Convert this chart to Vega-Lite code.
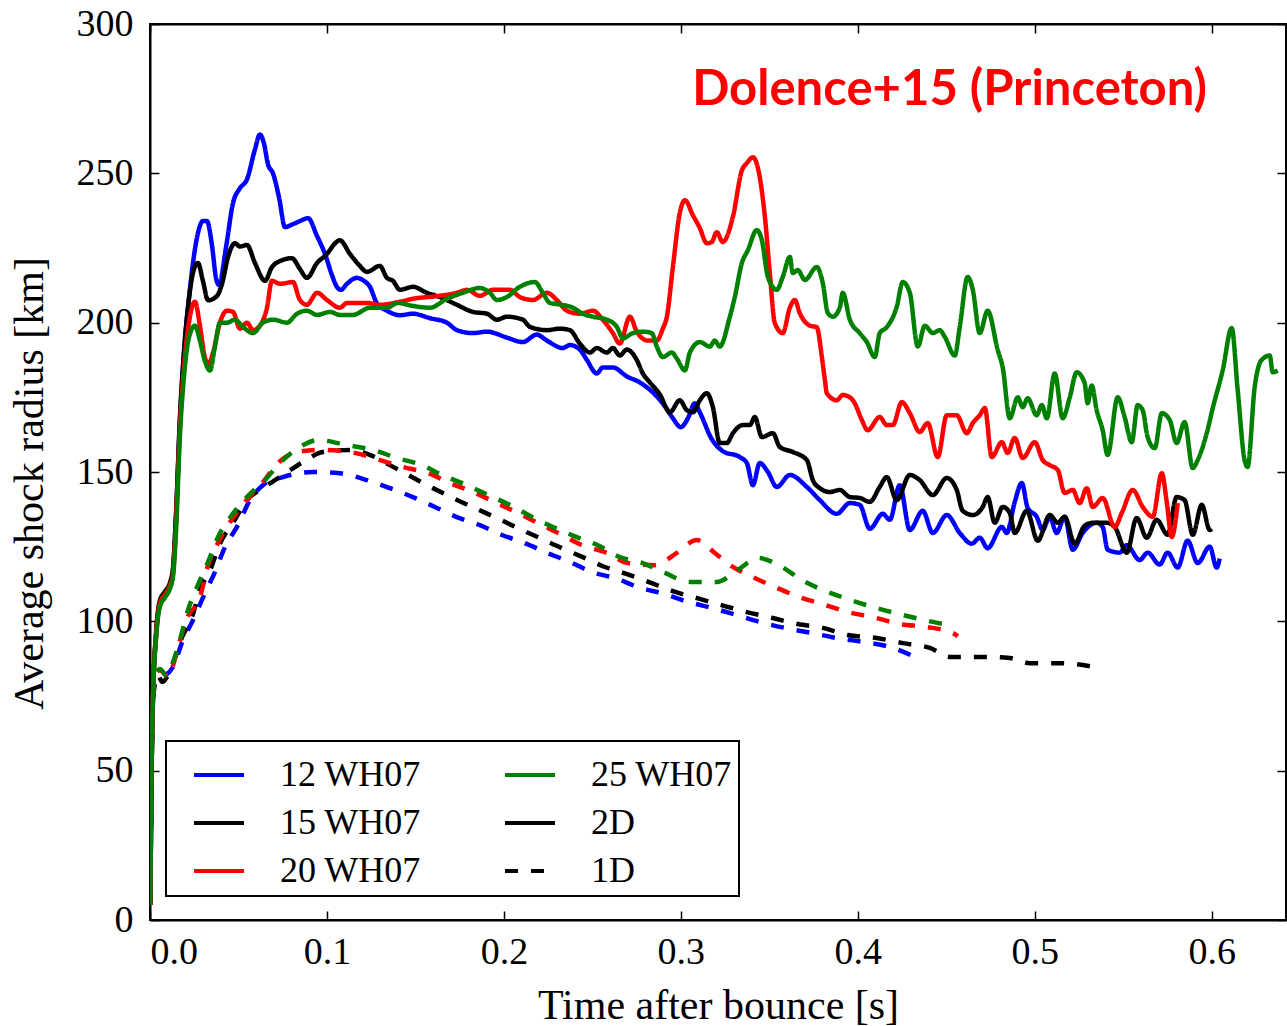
{
"$schema": "https://vega.github.io/schema/vega-lite/v6.json",
"width": 1136, "height": 896,
"autosize": {"type": "none"},
"padding": {"left": 150, "top": 24, "right": 1, "bottom": 106},
"background": "white",
"title": {"text": "Dolence+15 (Princeton)", "anchor": "end", "frame": "group", "orient": "top", "offset": 0, "baseline": "alphabetic", "dy": 149, "dx": -79, "color": "#ff0000", "font": "Lato", "fontSize": 49, "fontWeight": "bold"},
"config": {
 "view": {"stroke": "black", "strokeWidth": 2},
 "axis": {"grid": false, "domainColor": "black", "domainWidth": 2, "tickColor": "black", "tickWidth": 1.5, "tickSize": -9, "labelFont": "Liberation Serif", "labelFontSize": 38, "labelColor": "black", "titleFont": "Liberation Serif", "titleFontSize": 42, "titleFontWeight": "normal", "titleColor": "black"},
 "legend": {"labelFont": "Liberation Serif", "labelFontSize": 36, "labelColor": "black"}
},
"layer": [
 {
  "data": {"values": [
{"model":"12 WH07","dim":"2D","t":0.0002,"r":5},{"model":"12 WH07","dim":"2D","t":0.0008,"r":45},{"model":"12 WH07","dim":"2D","t":0.0017,"r":75},{"model":"12 WH07","dim":"2D","t":0.0034,"r":95},{"model":"12 WH07","dim":"2D","t":0.0056,"r":106},{"model":"12 WH07","dim":"2D","t":0.0085,"r":109},{"model":"12 WH07","dim":"2D","t":0.0113,"r":112},{"model":"12 WH07","dim":"2D","t":0.013,"r":117},{"model":"12 WH07","dim":"2D","t":0.0147,"r":135},{"model":"12 WH07","dim":"2D","t":0.0169,"r":167},{"model":"12 WH07","dim":"2D","t":0.0192,"r":190},{"model":"12 WH07","dim":"2D","t":0.022,"r":208},{"model":"12 WH07","dim":"2D","t":0.0243,"r":220},{"model":"12 WH07","dim":"2D","t":0.0271,"r":230},{"model":"12 WH07","dim":"2D","t":0.0299,"r":234},{"model":"12 WH07","dim":"2D","t":0.0322,"r":234},{"model":"12 WH07","dim":"2D","t":0.035,"r":226},{"model":"12 WH07","dim":"2D","t":0.0373,"r":215},{"model":"12 WH07","dim":"2D","t":0.039,"r":212.6},{"model":"12 WH07","dim":"2D","t":0.0429,"r":225},{"model":"12 WH07","dim":"2D","t":0.0469,"r":240},{"model":"12 WH07","dim":"2D","t":0.0508,"r":245},{"model":"12 WH07","dim":"2D","t":0.0548,"r":248},{"model":"12 WH07","dim":"2D","t":0.0593,"r":258},{"model":"12 WH07","dim":"2D","t":0.0621,"r":263},{"model":"12 WH07","dim":"2D","t":0.0644,"r":260},{"model":"12 WH07","dim":"2D","t":0.0667,"r":253},{"model":"12 WH07","dim":"2D","t":0.0695,"r":250},{"model":"12 WH07","dim":"2D","t":0.0729,"r":242},{"model":"12 WH07","dim":"2D","t":0.0763,"r":232},{"model":"12 WH07","dim":"2D","t":0.0808,"r":233},{"model":"12 WH07","dim":"2D","t":0.0847,"r":234},{"model":"12 WH07","dim":"2D","t":0.0893,"r":235},{"model":"12 WH07","dim":"2D","t":0.0944,"r":229},{"model":"12 WH07","dim":"2D","t":0.0989,"r":223},{"model":"12 WH07","dim":"2D","t":0.1028,"r":216},{"model":"12 WH07","dim":"2D","t":0.1056,"r":212},{"model":"12 WH07","dim":"2D","t":0.1079,"r":211},{"model":"12 WH07","dim":"2D","t":0.1113,"r":213},{"model":"12 WH07","dim":"2D","t":0.1169,"r":215},{"model":"12 WH07","dim":"2D","t":0.1209,"r":214},{"model":"12 WH07","dim":"2D","t":0.1243,"r":212},{"model":"12 WH07","dim":"2D","t":0.1282,"r":206.5},{"model":"12 WH07","dim":"2D","t":0.1339,"r":204},{"model":"12 WH07","dim":"2D","t":0.1412,"r":202.5},{"model":"12 WH07","dim":"2D","t":0.1486,"r":203},{"model":"12 WH07","dim":"2D","t":0.1582,"r":201.5},{"model":"12 WH07","dim":"2D","t":0.1678,"r":200},{"model":"12 WH07","dim":"2D","t":0.1734,"r":197.5},{"model":"12 WH07","dim":"2D","t":0.1825,"r":196.5},{"model":"12 WH07","dim":"2D","t":0.1904,"r":197},{"model":"12 WH07","dim":"2D","t":0.2017,"r":195},{"model":"12 WH07","dim":"2D","t":0.2107,"r":193.5},{"model":"12 WH07","dim":"2D","t":0.2186,"r":196},{"model":"12 WH07","dim":"2D","t":0.2243,"r":194},{"model":"12 WH07","dim":"2D","t":0.2333,"r":191.5},{"model":"12 WH07","dim":"2D","t":0.2373,"r":192.5},{"model":"12 WH07","dim":"2D","t":0.2429,"r":191},{"model":"12 WH07","dim":"2D","t":0.2469,"r":187.5},{"model":"12 WH07","dim":"2D","t":0.2525,"r":183},{"model":"12 WH07","dim":"2D","t":0.2559,"r":185},{"model":"12 WH07","dim":"2D","t":0.2616,"r":185},{"model":"12 WH07","dim":"2D","t":0.2695,"r":182},{"model":"12 WH07","dim":"2D","t":0.2768,"r":180},{"model":"12 WH07","dim":"2D","t":0.2853,"r":176},{"model":"12 WH07","dim":"2D","t":0.291,"r":172},{"model":"12 WH07","dim":"2D","t":0.2955,"r":168},{"model":"12 WH07","dim":"2D","t":0.3,"r":165},{"model":"12 WH07","dim":"2D","t":0.304,"r":168},{"model":"12 WH07","dim":"2D","t":0.3079,"r":173},{"model":"12 WH07","dim":"2D","t":0.3107,"r":170},{"model":"12 WH07","dim":"2D","t":0.3175,"r":161},{"model":"12 WH07","dim":"2D","t":0.3237,"r":157},{"model":"12 WH07","dim":"2D","t":0.3333,"r":155},{"model":"12 WH07","dim":"2D","t":0.3373,"r":153},{"model":"12 WH07","dim":"2D","t":0.3407,"r":145.6},{"model":"12 WH07","dim":"2D","t":0.3446,"r":153},{"model":"12 WH07","dim":"2D","t":0.3492,"r":150},{"model":"12 WH07","dim":"2D","t":0.3542,"r":145},{"model":"12 WH07","dim":"2D","t":0.3616,"r":149},{"model":"12 WH07","dim":"2D","t":0.3712,"r":145},{"model":"12 WH07","dim":"2D","t":0.3785,"r":140.6},{"model":"12 WH07","dim":"2D","t":0.3881,"r":136},{"model":"12 WH07","dim":"2D","t":0.3955,"r":139.6},{"model":"12 WH07","dim":"2D","t":0.4011,"r":139},{"model":"12 WH07","dim":"2D","t":0.4068,"r":131},{"model":"12 WH07","dim":"2D","t":0.4141,"r":136},{"model":"12 WH07","dim":"2D","t":0.4181,"r":134},{"model":"12 WH07","dim":"2D","t":0.4237,"r":145.6},{"model":"12 WH07","dim":"2D","t":0.4294,"r":130.6},{"model":"12 WH07","dim":"2D","t":0.4367,"r":137},{"model":"12 WH07","dim":"2D","t":0.4424,"r":129.6},{"model":"12 WH07","dim":"2D","t":0.4503,"r":135.6},{"model":"12 WH07","dim":"2D","t":0.4576,"r":129.6},{"model":"12 WH07","dim":"2D","t":0.4644,"r":126},{"model":"12 WH07","dim":"2D","t":0.4689,"r":128},{"model":"12 WH07","dim":"2D","t":0.4734,"r":124.5},{"model":"12 WH07","dim":"2D","t":0.4814,"r":131.6},{"model":"12 WH07","dim":"2D","t":0.4842,"r":129.6},{"model":"12 WH07","dim":"2D","t":0.4887,"r":140},{"model":"12 WH07","dim":"2D","t":0.4927,"r":146.3},{"model":"12 WH07","dim":"2D","t":0.496,"r":138},{"model":"12 WH07","dim":"2D","t":0.5011,"r":135},{"model":"12 WH07","dim":"2D","t":0.5045,"r":130.6},{"model":"12 WH07","dim":"2D","t":0.5085,"r":135},{"model":"12 WH07","dim":"2D","t":0.5124,"r":129.6},{"model":"12 WH07","dim":"2D","t":0.5169,"r":135},{"model":"12 WH07","dim":"2D","t":0.5215,"r":124},{"model":"12 WH07","dim":"2D","t":0.5271,"r":129.6},{"model":"12 WH07","dim":"2D","t":0.535,"r":133},{"model":"12 WH07","dim":"2D","t":0.5384,"r":131.6},{"model":"12 WH07","dim":"2D","t":0.5412,"r":124},{"model":"12 WH07","dim":"2D","t":0.548,"r":123},{"model":"12 WH07","dim":"2D","t":0.552,"r":125.5},{"model":"12 WH07","dim":"2D","t":0.5593,"r":120.5},{"model":"12 WH07","dim":"2D","t":0.5638,"r":123},{"model":"12 WH07","dim":"2D","t":0.5706,"r":119},{"model":"12 WH07","dim":"2D","t":0.5751,"r":123},{"model":"12 WH07","dim":"2D","t":0.5808,"r":118},{"model":"12 WH07","dim":"2D","t":0.5864,"r":127},{"model":"12 WH07","dim":"2D","t":0.5921,"r":119.5},{"model":"12 WH07","dim":"2D","t":0.5989,"r":125},{"model":"12 WH07","dim":"2D","t":0.6028,"r":118},{"model":"12 WH07","dim":"2D","t":0.6045,"r":121},
{"model":"15 WH07","dim":"2D","t":0.0002,"r":5},{"model":"15 WH07","dim":"2D","t":0.0008,"r":45},{"model":"15 WH07","dim":"2D","t":0.0017,"r":75},{"model":"15 WH07","dim":"2D","t":0.0034,"r":96},{"model":"15 WH07","dim":"2D","t":0.0056,"r":107},{"model":"15 WH07","dim":"2D","t":0.0085,"r":110},{"model":"15 WH07","dim":"2D","t":0.0113,"r":113},{"model":"15 WH07","dim":"2D","t":0.013,"r":118},{"model":"15 WH07","dim":"2D","t":0.0147,"r":136},{"model":"15 WH07","dim":"2D","t":0.0169,"r":168},{"model":"15 WH07","dim":"2D","t":0.0192,"r":190},{"model":"15 WH07","dim":"2D","t":0.022,"r":208},{"model":"15 WH07","dim":"2D","t":0.0249,"r":218},{"model":"15 WH07","dim":"2D","t":0.0271,"r":220},{"model":"15 WH07","dim":"2D","t":0.0299,"r":214},{"model":"15 WH07","dim":"2D","t":0.0328,"r":207.5},{"model":"15 WH07","dim":"2D","t":0.0379,"r":209},{"model":"15 WH07","dim":"2D","t":0.0407,"r":213},{"model":"15 WH07","dim":"2D","t":0.0441,"r":222},{"model":"15 WH07","dim":"2D","t":0.048,"r":226.6},{"model":"15 WH07","dim":"2D","t":0.0508,"r":225.5},{"model":"15 WH07","dim":"2D","t":0.0548,"r":226},{"model":"15 WH07","dim":"2D","t":0.0593,"r":220},{"model":"15 WH07","dim":"2D","t":0.065,"r":214},{"model":"15 WH07","dim":"2D","t":0.0689,"r":218.6},{"model":"15 WH07","dim":"2D","t":0.0751,"r":221},{"model":"15 WH07","dim":"2D","t":0.0802,"r":221.6},{"model":"15 WH07","dim":"2D","t":0.0847,"r":218},{"model":"15 WH07","dim":"2D","t":0.0887,"r":215},{"model":"15 WH07","dim":"2D","t":0.0944,"r":220},{"model":"15 WH07","dim":"2D","t":0.1,"r":223},{"model":"15 WH07","dim":"2D","t":0.1045,"r":226.5},{"model":"15 WH07","dim":"2D","t":0.1073,"r":227.6},{"model":"15 WH07","dim":"2D","t":0.113,"r":223},{"model":"15 WH07","dim":"2D","t":0.1186,"r":219},{"model":"15 WH07","dim":"2D","t":0.1226,"r":217},{"model":"15 WH07","dim":"2D","t":0.1299,"r":219},{"model":"15 WH07","dim":"2D","t":0.1339,"r":215},{"model":"15 WH07","dim":"2D","t":0.1373,"r":214},{"model":"15 WH07","dim":"2D","t":0.1412,"r":211},{"model":"15 WH07","dim":"2D","t":0.1486,"r":212},{"model":"15 WH07","dim":"2D","t":0.1565,"r":210},{"model":"15 WH07","dim":"2D","t":0.1638,"r":208.6},{"model":"15 WH07","dim":"2D","t":0.1734,"r":206},{"model":"15 WH07","dim":"2D","t":0.1825,"r":203.6},{"model":"15 WH07","dim":"2D","t":0.1904,"r":203},{"model":"15 WH07","dim":"2D","t":0.196,"r":201},{"model":"15 WH07","dim":"2D","t":0.2017,"r":202},{"model":"15 WH07","dim":"2D","t":0.2107,"r":201},{"model":"15 WH07","dim":"2D","t":0.2147,"r":198.6},{"model":"15 WH07","dim":"2D","t":0.2243,"r":197.5},{"model":"15 WH07","dim":"2D","t":0.2316,"r":198},{"model":"15 WH07","dim":"2D","t":0.2373,"r":197.5},{"model":"15 WH07","dim":"2D","t":0.2429,"r":193},{"model":"15 WH07","dim":"2D","t":0.2486,"r":190},{"model":"15 WH07","dim":"2D","t":0.2525,"r":191.5},{"model":"15 WH07","dim":"2D","t":0.2582,"r":190},{"model":"15 WH07","dim":"2D","t":0.2616,"r":191.5},{"model":"15 WH07","dim":"2D","t":0.2655,"r":189},{"model":"15 WH07","dim":"2D","t":0.2695,"r":191},{"model":"15 WH07","dim":"2D","t":0.2751,"r":187.5},{"model":"15 WH07","dim":"2D","t":0.2785,"r":183},{"model":"15 WH07","dim":"2D","t":0.2825,"r":180},{"model":"15 WH07","dim":"2D","t":0.2881,"r":176},{"model":"15 WH07","dim":"2D","t":0.2938,"r":170},{"model":"15 WH07","dim":"2D","t":0.2994,"r":174},{"model":"15 WH07","dim":"2D","t":0.3034,"r":170.7},{"model":"15 WH07","dim":"2D","t":0.3068,"r":170},{"model":"15 WH07","dim":"2D","t":0.3107,"r":174},{"model":"15 WH07","dim":"2D","t":0.3147,"r":176.4},{"model":"15 WH07","dim":"2D","t":0.3181,"r":171.7},{"model":"15 WH07","dim":"2D","t":0.322,"r":159.7},{"model":"15 WH07","dim":"2D","t":0.326,"r":159.7},{"model":"15 WH07","dim":"2D","t":0.3294,"r":163},{"model":"15 WH07","dim":"2D","t":0.335,"r":165.7},{"model":"15 WH07","dim":"2D","t":0.339,"r":165.7},{"model":"15 WH07","dim":"2D","t":0.3418,"r":168.4},{"model":"15 WH07","dim":"2D","t":0.3458,"r":161.7},{"model":"15 WH07","dim":"2D","t":0.352,"r":163},{"model":"15 WH07","dim":"2D","t":0.3559,"r":158.4},{"model":"15 WH07","dim":"2D","t":0.3633,"r":156.7},{"model":"15 WH07","dim":"2D","t":0.3712,"r":154},{"model":"15 WH07","dim":"2D","t":0.3746,"r":147.3},{"model":"15 WH07","dim":"2D","t":0.3785,"r":144.6},{"model":"15 WH07","dim":"2D","t":0.3842,"r":143.3},{"model":"15 WH07","dim":"2D","t":0.3898,"r":144},{"model":"15 WH07","dim":"2D","t":0.3955,"r":141.6},{"model":"15 WH07","dim":"2D","t":0.4011,"r":141.3},{"model":"15 WH07","dim":"2D","t":0.4068,"r":140},{"model":"15 WH07","dim":"2D","t":0.4124,"r":145},{"model":"15 WH07","dim":"2D","t":0.4164,"r":148.3},{"model":"15 WH07","dim":"2D","t":0.422,"r":140.6},{"model":"15 WH07","dim":"2D","t":0.4294,"r":149},{"model":"15 WH07","dim":"2D","t":0.435,"r":147.3},{"model":"15 WH07","dim":"2D","t":0.4424,"r":142.3},{"model":"15 WH07","dim":"2D","t":0.4503,"r":148},{"model":"15 WH07","dim":"2D","t":0.4559,"r":144},{"model":"15 WH07","dim":"2D","t":0.4593,"r":137},{"model":"15 WH07","dim":"2D","t":0.465,"r":135.6},{"model":"15 WH07","dim":"2D","t":0.4706,"r":138.3},{"model":"15 WH07","dim":"2D","t":0.4734,"r":141.6},{"model":"15 WH07","dim":"2D","t":0.4774,"r":133},{"model":"15 WH07","dim":"2D","t":0.4819,"r":138.3},{"model":"15 WH07","dim":"2D","t":0.4859,"r":136.3},{"model":"15 WH07","dim":"2D","t":0.4887,"r":129.6},{"model":"15 WH07","dim":"2D","t":0.4955,"r":137},{"model":"15 WH07","dim":"2D","t":0.5017,"r":127},{"model":"15 WH07","dim":"2D","t":0.5085,"r":135.6},{"model":"15 WH07","dim":"2D","t":0.513,"r":133},{"model":"15 WH07","dim":"2D","t":0.5169,"r":135},{"model":"15 WH07","dim":"2D","t":0.5226,"r":126},{"model":"15 WH07","dim":"2D","t":0.5282,"r":132},{"model":"15 WH07","dim":"2D","t":0.5328,"r":133},{"model":"15 WH07","dim":"2D","t":0.5407,"r":133},{"model":"15 WH07","dim":"2D","t":0.5452,"r":131.6},{"model":"15 WH07","dim":"2D","t":0.552,"r":123},{"model":"15 WH07","dim":"2D","t":0.5576,"r":134.6},{"model":"15 WH07","dim":"2D","t":0.5633,"r":128},{"model":"15 WH07","dim":"2D","t":0.5689,"r":134},{"model":"15 WH07","dim":"2D","t":0.5751,"r":129},{"model":"15 WH07","dim":"2D","t":0.5802,"r":141.6},{"model":"15 WH07","dim":"2D","t":0.5847,"r":140.6},{"model":"15 WH07","dim":"2D","t":0.5893,"r":129},{"model":"15 WH07","dim":"2D","t":0.5944,"r":139},{"model":"15 WH07","dim":"2D","t":0.5989,"r":130.6},{"model":"15 WH07","dim":"2D","t":0.6,"r":131},
{"model":"20 WH07","dim":"2D","t":0.0002,"r":5},{"model":"20 WH07","dim":"2D","t":0.0008,"r":45},{"model":"20 WH07","dim":"2D","t":0.0017,"r":75},{"model":"20 WH07","dim":"2D","t":0.0034,"r":95},{"model":"20 WH07","dim":"2D","t":0.0056,"r":106},{"model":"20 WH07","dim":"2D","t":0.0085,"r":109},{"model":"20 WH07","dim":"2D","t":0.0113,"r":112},{"model":"20 WH07","dim":"2D","t":0.013,"r":116},{"model":"20 WH07","dim":"2D","t":0.0147,"r":133},{"model":"20 WH07","dim":"2D","t":0.0169,"r":165},{"model":"20 WH07","dim":"2D","t":0.0192,"r":185},{"model":"20 WH07","dim":"2D","t":0.022,"r":200},{"model":"20 WH07","dim":"2D","t":0.0254,"r":207},{"model":"20 WH07","dim":"2D","t":0.0282,"r":199},{"model":"20 WH07","dim":"2D","t":0.0305,"r":190},{"model":"20 WH07","dim":"2D","t":0.0328,"r":186},{"model":"20 WH07","dim":"2D","t":0.0356,"r":190},{"model":"20 WH07","dim":"2D","t":0.0395,"r":200},{"model":"20 WH07","dim":"2D","t":0.0435,"r":204},{"model":"20 WH07","dim":"2D","t":0.0469,"r":203.6},{"model":"20 WH07","dim":"2D","t":0.0508,"r":198},{"model":"20 WH07","dim":"2D","t":0.0548,"r":200},{"model":"20 WH07","dim":"2D","t":0.0582,"r":197.5},{"model":"20 WH07","dim":"2D","t":0.0621,"r":199},{"model":"20 WH07","dim":"2D","t":0.0661,"r":205},{"model":"20 WH07","dim":"2D","t":0.0689,"r":214},{"model":"20 WH07","dim":"2D","t":0.0734,"r":213},{"model":"20 WH07","dim":"2D","t":0.0808,"r":213.6},{"model":"20 WH07","dim":"2D","t":0.0847,"r":207.6},{"model":"20 WH07","dim":"2D","t":0.0887,"r":206},{"model":"20 WH07","dim":"2D","t":0.0944,"r":210},{"model":"20 WH07","dim":"2D","t":0.1,"r":207.6},{"model":"20 WH07","dim":"2D","t":0.1073,"r":205},{"model":"20 WH07","dim":"2D","t":0.1113,"r":206.6},{"model":"20 WH07","dim":"2D","t":0.1226,"r":206.6},{"model":"20 WH07","dim":"2D","t":0.1299,"r":206},{"model":"20 WH07","dim":"2D","t":0.1412,"r":207},{"model":"20 WH07","dim":"2D","t":0.1486,"r":208},{"model":"20 WH07","dim":"2D","t":0.1638,"r":209},{"model":"20 WH07","dim":"2D","t":0.1734,"r":210},{"model":"20 WH07","dim":"2D","t":0.1791,"r":211},{"model":"20 WH07","dim":"2D","t":0.1864,"r":209},{"model":"20 WH07","dim":"2D","t":0.1938,"r":211},{"model":"20 WH07","dim":"2D","t":0.2034,"r":211},{"model":"20 WH07","dim":"2D","t":0.209,"r":208.6},{"model":"20 WH07","dim":"2D","t":0.2164,"r":207.6},{"model":"20 WH07","dim":"2D","t":0.2243,"r":210},{"model":"20 WH07","dim":"2D","t":0.2299,"r":207.6},{"model":"20 WH07","dim":"2D","t":0.2356,"r":204},{"model":"20 WH07","dim":"2D","t":0.2429,"r":203},{"model":"20 WH07","dim":"2D","t":0.2503,"r":204},{"model":"20 WH07","dim":"2D","t":0.2559,"r":201},{"model":"20 WH07","dim":"2D","t":0.2616,"r":196.5},{"model":"20 WH07","dim":"2D","t":0.2655,"r":193},{"model":"20 WH07","dim":"2D","t":0.2712,"r":202},{"model":"20 WH07","dim":"2D","t":0.2751,"r":197},{"model":"20 WH07","dim":"2D","t":0.2814,"r":194},{"model":"20 WH07","dim":"2D","t":0.2864,"r":194},{"model":"20 WH07","dim":"2D","t":0.2898,"r":198},{"model":"20 WH07","dim":"2D","t":0.2921,"r":202},{"model":"20 WH07","dim":"2D","t":0.2955,"r":218.6},{"model":"20 WH07","dim":"2D","t":0.2994,"r":236.7},{"model":"20 WH07","dim":"2D","t":0.3023,"r":241},{"model":"20 WH07","dim":"2D","t":0.3068,"r":236},{"model":"20 WH07","dim":"2D","t":0.3107,"r":231.7},{"model":"20 WH07","dim":"2D","t":0.3147,"r":226.6},{"model":"20 WH07","dim":"2D","t":0.3175,"r":227},{"model":"20 WH07","dim":"2D","t":0.3203,"r":230.3},{"model":"20 WH07","dim":"2D","t":0.3237,"r":227},{"model":"20 WH07","dim":"2D","t":0.3294,"r":235.4},{"model":"20 WH07","dim":"2D","t":0.3345,"r":251},{"model":"20 WH07","dim":"2D","t":0.3373,"r":253.4},{"model":"20 WH07","dim":"2D","t":0.3407,"r":255.4},{"model":"20 WH07","dim":"2D","t":0.3446,"r":248.7},{"model":"20 WH07","dim":"2D","t":0.3475,"r":235.4},{"model":"20 WH07","dim":"2D","t":0.3503,"r":216.6},{"model":"20 WH07","dim":"2D","t":0.3531,"r":199.9},{"model":"20 WH07","dim":"2D","t":0.3576,"r":196.5},{"model":"20 WH07","dim":"2D","t":0.3616,"r":205},{"model":"20 WH07","dim":"2D","t":0.3644,"r":207.6},{"model":"20 WH07","dim":"2D","t":0.3672,"r":203.2},{"model":"20 WH07","dim":"2D","t":0.3729,"r":199},{"model":"20 WH07","dim":"2D","t":0.3768,"r":198.5},{"model":"20 WH07","dim":"2D","t":0.3797,"r":188.5},{"model":"20 WH07","dim":"2D","t":0.3814,"r":180.8},{"model":"20 WH07","dim":"2D","t":0.3825,"r":176.4},{"model":"20 WH07","dim":"2D","t":0.3881,"r":174},{"model":"20 WH07","dim":"2D","t":0.3915,"r":175.8},{"model":"20 WH07","dim":"2D","t":0.3955,"r":175},{"model":"20 WH07","dim":"2D","t":0.3983,"r":173},{"model":"20 WH07","dim":"2D","t":0.4023,"r":167.4},{"model":"20 WH07","dim":"2D","t":0.4056,"r":164},{"model":"20 WH07","dim":"2D","t":0.4124,"r":168.4},{"model":"20 WH07","dim":"2D","t":0.4164,"r":165.7},{"model":"20 WH07","dim":"2D","t":0.4198,"r":165.7},{"model":"20 WH07","dim":"2D","t":0.4249,"r":173.4},{"model":"20 WH07","dim":"2D","t":0.4294,"r":169.7},{"model":"20 WH07","dim":"2D","t":0.435,"r":163.4},{"model":"20 WH07","dim":"2D","t":0.4395,"r":166.4},{"model":"20 WH07","dim":"2D","t":0.4452,"r":155},{"model":"20 WH07","dim":"2D","t":0.4503,"r":169},{"model":"20 WH07","dim":"2D","t":0.4559,"r":169},{"model":"20 WH07","dim":"2D","t":0.4616,"r":163},{"model":"20 WH07","dim":"2D","t":0.465,"r":166.4},{"model":"20 WH07","dim":"2D","t":0.4689,"r":169},{"model":"20 WH07","dim":"2D","t":0.4718,"r":171.4},{"model":"20 WH07","dim":"2D","t":0.4757,"r":155},{"model":"20 WH07","dim":"2D","t":0.4814,"r":160},{"model":"20 WH07","dim":"2D","t":0.4847,"r":156.4},{"model":"20 WH07","dim":"2D","t":0.4887,"r":161.4},{"model":"20 WH07","dim":"2D","t":0.4932,"r":154.7},{"model":"20 WH07","dim":"2D","t":0.5,"r":160},{"model":"20 WH07","dim":"2D","t":0.5045,"r":154},{"model":"20 WH07","dim":"2D","t":0.5085,"r":152.3},{"model":"20 WH07","dim":"2D","t":0.513,"r":150.7},{"model":"20 WH07","dim":"2D","t":0.5169,"r":143},{"model":"20 WH07","dim":"2D","t":0.5215,"r":144},{"model":"20 WH07","dim":"2D","t":0.5254,"r":139.6},{"model":"20 WH07","dim":"2D","t":0.5294,"r":144.6},{"model":"20 WH07","dim":"2D","t":0.5328,"r":138.3},{"model":"20 WH07","dim":"2D","t":0.5384,"r":141.3},{"model":"20 WH07","dim":"2D","t":0.5452,"r":131.6},{"model":"20 WH07","dim":"2D","t":0.5492,"r":136.3},{"model":"20 WH07","dim":"2D","t":0.5554,"r":144},{"model":"20 WH07","dim":"2D","t":0.561,"r":138.3},{"model":"20 WH07","dim":"2D","t":0.5667,"r":135},{"model":"20 WH07","dim":"2D","t":0.5718,"r":149.6},{"model":"20 WH07","dim":"2D","t":0.5746,"r":140},{"model":"20 WH07","dim":"2D","t":0.5774,"r":128.2},{"model":"20 WH07","dim":"2D","t":0.5808,"r":139.6},
{"model":"25 WH07","dim":"2D","t":0.0002,"r":5},{"model":"25 WH07","dim":"2D","t":0.0008,"r":45},{"model":"25 WH07","dim":"2D","t":0.0017,"r":75},{"model":"25 WH07","dim":"2D","t":0.0034,"r":94},{"model":"25 WH07","dim":"2D","t":0.0056,"r":105},{"model":"25 WH07","dim":"2D","t":0.0085,"r":108},{"model":"25 WH07","dim":"2D","t":0.0113,"r":111},{"model":"25 WH07","dim":"2D","t":0.013,"r":115},{"model":"25 WH07","dim":"2D","t":0.0147,"r":130},{"model":"25 WH07","dim":"2D","t":0.0169,"r":162},{"model":"25 WH07","dim":"2D","t":0.0192,"r":182},{"model":"25 WH07","dim":"2D","t":0.022,"r":195},{"model":"25 WH07","dim":"2D","t":0.0254,"r":199},{"model":"25 WH07","dim":"2D","t":0.0282,"r":194},{"model":"25 WH07","dim":"2D","t":0.0311,"r":187},{"model":"25 WH07","dim":"2D","t":0.0339,"r":184},{"model":"25 WH07","dim":"2D","t":0.0367,"r":192},{"model":"25 WH07","dim":"2D","t":0.0395,"r":200},{"model":"25 WH07","dim":"2D","t":0.0435,"r":200},{"model":"25 WH07","dim":"2D","t":0.048,"r":201},{"model":"25 WH07","dim":"2D","t":0.0525,"r":198.6},{"model":"25 WH07","dim":"2D","t":0.0582,"r":196.5},{"model":"25 WH07","dim":"2D","t":0.0638,"r":200},{"model":"25 WH07","dim":"2D","t":0.0695,"r":201},{"model":"25 WH07","dim":"2D","t":0.0774,"r":200},{"model":"25 WH07","dim":"2D","t":0.0831,"r":203},{"model":"25 WH07","dim":"2D","t":0.0887,"r":204},{"model":"25 WH07","dim":"2D","t":0.0944,"r":202.6},{"model":"25 WH07","dim":"2D","t":0.1017,"r":203.6},{"model":"25 WH07","dim":"2D","t":0.1073,"r":202.6},{"model":"25 WH07","dim":"2D","t":0.1147,"r":202.6},{"model":"25 WH07","dim":"2D","t":0.1243,"r":205},{"model":"25 WH07","dim":"2D","t":0.1339,"r":205},{"model":"25 WH07","dim":"2D","t":0.1401,"r":206.6},{"model":"25 WH07","dim":"2D","t":0.1486,"r":205.6},{"model":"25 WH07","dim":"2D","t":0.1582,"r":205},{"model":"25 WH07","dim":"2D","t":0.1678,"r":208},{"model":"25 WH07","dim":"2D","t":0.1768,"r":210},{"model":"25 WH07","dim":"2D","t":0.1864,"r":211.6},{"model":"25 WH07","dim":"2D","t":0.1921,"r":210},{"model":"25 WH07","dim":"2D","t":0.196,"r":207.6},{"model":"25 WH07","dim":"2D","t":0.2017,"r":208.6},{"model":"25 WH07","dim":"2D","t":0.209,"r":212},{"model":"25 WH07","dim":"2D","t":0.2175,"r":213.6},{"model":"25 WH07","dim":"2D","t":0.222,"r":210},{"model":"25 WH07","dim":"2D","t":0.226,"r":206.6},{"model":"25 WH07","dim":"2D","t":0.2328,"r":206},{"model":"25 WH07","dim":"2D","t":0.239,"r":205},{"model":"25 WH07","dim":"2D","t":0.2446,"r":203},{"model":"25 WH07","dim":"2D","t":0.2503,"r":202},{"model":"25 WH07","dim":"2D","t":0.2582,"r":201},{"model":"25 WH07","dim":"2D","t":0.2638,"r":198.6},{"model":"25 WH07","dim":"2D","t":0.2672,"r":194.8},{"model":"25 WH07","dim":"2D","t":0.2729,"r":196.5},{"model":"25 WH07","dim":"2D","t":0.2785,"r":197},{"model":"25 WH07","dim":"2D","t":0.2836,"r":196.5},{"model":"25 WH07","dim":"2D","t":0.2864,"r":192},{"model":"25 WH07","dim":"2D","t":0.2898,"r":188.5},{"model":"25 WH07","dim":"2D","t":0.2949,"r":190},{"model":"25 WH07","dim":"2D","t":0.2977,"r":188},{"model":"25 WH07","dim":"2D","t":0.3023,"r":184},{"model":"25 WH07","dim":"2D","t":0.3051,"r":190},{"model":"25 WH07","dim":"2D","t":0.3107,"r":193.5},{"model":"25 WH07","dim":"2D","t":0.3164,"r":192},{"model":"25 WH07","dim":"2D","t":0.3192,"r":194},{"model":"25 WH07","dim":"2D","t":0.322,"r":192},{"model":"25 WH07","dim":"2D","t":0.3277,"r":202},{"model":"25 WH07","dim":"2D","t":0.3305,"r":208.6},{"model":"25 WH07","dim":"2D","t":0.3345,"r":220},{"model":"25 WH07","dim":"2D","t":0.3379,"r":224.3},{"model":"25 WH07","dim":"2D","t":0.3429,"r":231},{"model":"25 WH07","dim":"2D","t":0.3458,"r":227.6},{"model":"25 WH07","dim":"2D","t":0.3492,"r":215.3},{"model":"25 WH07","dim":"2D","t":0.3542,"r":211},{"model":"25 WH07","dim":"2D","t":0.3576,"r":215.3},{"model":"25 WH07","dim":"2D","t":0.3616,"r":222},{"model":"25 WH07","dim":"2D","t":0.3633,"r":216.6},{"model":"25 WH07","dim":"2D","t":0.3661,"r":217.6},{"model":"25 WH07","dim":"2D","t":0.3701,"r":214.3},{"model":"25 WH07","dim":"2D","t":0.3768,"r":218.6},{"model":"25 WH07","dim":"2D","t":0.3802,"r":213.3},{"model":"25 WH07","dim":"2D","t":0.3831,"r":203.2},{"model":"25 WH07","dim":"2D","t":0.3859,"r":202},{"model":"25 WH07","dim":"2D","t":0.3898,"r":205},{"model":"25 WH07","dim":"2D","t":0.3915,"r":210},{"model":"25 WH07","dim":"2D","t":0.3955,"r":201},{"model":"25 WH07","dim":"2D","t":0.4011,"r":196.5},{"model":"25 WH07","dim":"2D","t":0.4051,"r":193.5},{"model":"25 WH07","dim":"2D","t":0.4096,"r":188.5},{"model":"25 WH07","dim":"2D","t":0.4124,"r":196.5},{"model":"25 WH07","dim":"2D","t":0.4164,"r":198.5},{"model":"25 WH07","dim":"2D","t":0.422,"r":205.3},{"model":"25 WH07","dim":"2D","t":0.4254,"r":213.6},{"model":"25 WH07","dim":"2D","t":0.4294,"r":210},{"model":"25 WH07","dim":"2D","t":0.4339,"r":192},{"model":"25 WH07","dim":"2D","t":0.4379,"r":199},{"model":"25 WH07","dim":"2D","t":0.4424,"r":196.5},{"model":"25 WH07","dim":"2D","t":0.4463,"r":197.5},{"model":"25 WH07","dim":"2D","t":0.4492,"r":195.2},{"model":"25 WH07","dim":"2D","t":0.4548,"r":189},{"model":"25 WH07","dim":"2D","t":0.4576,"r":198.5},{"model":"25 WH07","dim":"2D","t":0.4621,"r":215.3},{"model":"25 WH07","dim":"2D","t":0.465,"r":211},{"model":"25 WH07","dim":"2D","t":0.4689,"r":196.5},{"model":"25 WH07","dim":"2D","t":0.4734,"r":204},{"model":"25 WH07","dim":"2D","t":0.4791,"r":190.8},{"model":"25 WH07","dim":"2D","t":0.4819,"r":185},{"model":"25 WH07","dim":"2D","t":0.4859,"r":168},{"model":"25 WH07","dim":"2D","t":0.4904,"r":175},{"model":"25 WH07","dim":"2D","t":0.4932,"r":171.7},{"model":"25 WH07","dim":"2D","t":0.496,"r":174.7},{"model":"25 WH07","dim":"2D","t":0.5011,"r":169},{"model":"25 WH07","dim":"2D","t":0.504,"r":172.4},{"model":"25 WH07","dim":"2D","t":0.5068,"r":168},{"model":"25 WH07","dim":"2D","t":0.5113,"r":183},{"model":"25 WH07","dim":"2D","t":0.5158,"r":168},{"model":"25 WH07","dim":"2D","t":0.5198,"r":175},{"model":"25 WH07","dim":"2D","t":0.5237,"r":183.4},{"model":"25 WH07","dim":"2D","t":0.5282,"r":179.8},{"model":"25 WH07","dim":"2D","t":0.5299,"r":173},{"model":"25 WH07","dim":"2D","t":0.5322,"r":179},{"model":"25 WH07","dim":"2D","t":0.535,"r":170.7},{"model":"25 WH07","dim":"2D","t":0.5384,"r":164},{"model":"25 WH07","dim":"2D","t":0.5412,"r":155.7},{"model":"25 WH07","dim":"2D","t":0.5469,"r":175},{"model":"25 WH07","dim":"2D","t":0.5508,"r":168.4},{"model":"25 WH07","dim":"2D","t":0.5548,"r":160},{"model":"25 WH07","dim":"2D","t":0.5582,"r":172.4},{"model":"25 WH07","dim":"2D","t":0.561,"r":170.7},{"model":"25 WH07","dim":"2D","t":0.5638,"r":161.7},{"model":"25 WH07","dim":"2D","t":0.5678,"r":158},{"model":"25 WH07","dim":"2D","t":0.5718,"r":169.7},{"model":"25 WH07","dim":"2D","t":0.5763,"r":167.4},{"model":"25 WH07","dim":"2D","t":0.5802,"r":159.7},{"model":"25 WH07","dim":"2D","t":0.5847,"r":166.7},{"model":"25 WH07","dim":"2D","t":0.5893,"r":151.3},{"model":"25 WH07","dim":"2D","t":0.5921,"r":154},{"model":"25 WH07","dim":"2D","t":0.5972,"r":163},{"model":"25 WH07","dim":"2D","t":0.6006,"r":171.4},{"model":"25 WH07","dim":"2D","t":0.6062,"r":184},{"model":"25 WH07","dim":"2D","t":0.6113,"r":198.2},{"model":"25 WH07","dim":"2D","t":0.6147,"r":177.4},{"model":"25 WH07","dim":"2D","t":0.6186,"r":154},{"model":"25 WH07","dim":"2D","t":0.6203,"r":151.7},{"model":"25 WH07","dim":"2D","t":0.6243,"r":178.4},{"model":"25 WH07","dim":"2D","t":0.6282,"r":187.5},{"model":"25 WH07","dim":"2D","t":0.6328,"r":189},{"model":"25 WH07","dim":"2D","t":0.6345,"r":183.4},{"model":"25 WH07","dim":"2D","t":0.6373,"r":184},
{"model":"12 WH07","dim":"1D","t":0.0002,"r":5},{"model":"12 WH07","dim":"1D","t":0.0008,"r":50},{"model":"12 WH07","dim":"1D","t":0.0017,"r":72},{"model":"12 WH07","dim":"1D","t":0.0028,"r":79},{"model":"12 WH07","dim":"1D","t":0.0056,"r":81},{"model":"12 WH07","dim":"1D","t":0.009,"r":82},{"model":"12 WH07","dim":"1D","t":0.013,"r":84.7},{"model":"12 WH07","dim":"1D","t":0.0186,"r":93.7},{"model":"12 WH07","dim":"1D","t":0.0243,"r":100.4},{"model":"12 WH07","dim":"1D","t":0.0311,"r":109.5},{"model":"12 WH07","dim":"1D","t":0.0367,"r":116.5},{"model":"12 WH07","dim":"1D","t":0.0424,"r":124.9},{"model":"12 WH07","dim":"1D","t":0.0497,"r":132.2},{"model":"12 WH07","dim":"1D","t":0.0565,"r":140.6},{"model":"12 WH07","dim":"1D","t":0.0638,"r":145.6},{"model":"12 WH07","dim":"1D","t":0.0751,"r":148.3},{"model":"12 WH07","dim":"1D","t":0.0921,"r":150},{"model":"12 WH07","dim":"1D","t":0.1073,"r":149.6},{"model":"12 WH07","dim":"1D","t":0.1226,"r":147.3},{"model":"12 WH07","dim":"1D","t":0.1356,"r":144.6},{"model":"12 WH07","dim":"1D","t":0.1486,"r":141.6},{"model":"12 WH07","dim":"1D","t":0.161,"r":138.3},{"model":"12 WH07","dim":"1D","t":0.1734,"r":134.9},{"model":"12 WH07","dim":"1D","t":0.1864,"r":132.2},{"model":"12 WH07","dim":"1D","t":0.1989,"r":128.9},{"model":"12 WH07","dim":"1D","t":0.2119,"r":126.2},{"model":"12 WH07","dim":"1D","t":0.2243,"r":122.9},{"model":"12 WH07","dim":"1D","t":0.2373,"r":119.9},{"model":"12 WH07","dim":"1D","t":0.2497,"r":116.5},{"model":"12 WH07","dim":"1D","t":0.2627,"r":114.5},{"model":"12 WH07","dim":"1D","t":0.2757,"r":111.5},{"model":"12 WH07","dim":"1D","t":0.291,"r":109.1},{"model":"12 WH07","dim":"1D","t":0.304,"r":106.5},{"model":"12 WH07","dim":"1D","t":0.3175,"r":104.5},{"model":"12 WH07","dim":"1D","t":0.3316,"r":102.1},{"model":"12 WH07","dim":"1D","t":0.3446,"r":99.8},{"model":"12 WH07","dim":"1D","t":0.3588,"r":97.8},{"model":"12 WH07","dim":"1D","t":0.374,"r":96.1},{"model":"12 WH07","dim":"1D","t":0.3881,"r":94.4},{"model":"12 WH07","dim":"1D","t":0.4028,"r":93.1},{"model":"12 WH07","dim":"1D","t":0.4181,"r":91.4},{"model":"12 WH07","dim":"1D","t":0.4322,"r":88.1},
{"model":"15 WH07","dim":"1D","t":0.0002,"r":5},{"model":"15 WH07","dim":"1D","t":0.0008,"r":50},{"model":"15 WH07","dim":"1D","t":0.0017,"r":72},{"model":"15 WH07","dim":"1D","t":0.0028,"r":80},{"model":"15 WH07","dim":"1D","t":0.0045,"r":82},{"model":"15 WH07","dim":"1D","t":0.0068,"r":79.7},{"model":"15 WH07","dim":"1D","t":0.013,"r":86},{"model":"15 WH07","dim":"1D","t":0.0181,"r":94.7},{"model":"15 WH07","dim":"1D","t":0.0237,"r":101.4},{"model":"15 WH07","dim":"1D","t":0.0282,"r":110.5},{"model":"15 WH07","dim":"1D","t":0.0339,"r":117},{"model":"15 WH07","dim":"1D","t":0.0395,"r":126},{"model":"15 WH07","dim":"1D","t":0.0469,"r":133},{"model":"15 WH07","dim":"1D","t":0.0548,"r":140.6},{"model":"15 WH07","dim":"1D","t":0.0638,"r":144.6},{"model":"15 WH07","dim":"1D","t":0.0751,"r":149},{"model":"15 WH07","dim":"1D","t":0.0864,"r":153.3},{"model":"15 WH07","dim":"1D","t":0.0977,"r":156.7},{"model":"15 WH07","dim":"1D","t":0.113,"r":157.4},{"model":"15 WH07","dim":"1D","t":0.1243,"r":155.7},{"model":"15 WH07","dim":"1D","t":0.1356,"r":152.3},{"model":"15 WH07","dim":"1D","t":0.148,"r":148.3},{"model":"15 WH07","dim":"1D","t":0.1599,"r":144.6},{"model":"15 WH07","dim":"1D","t":0.1712,"r":141.3},{"model":"15 WH07","dim":"1D","t":0.1836,"r":137.9},{"model":"15 WH07","dim":"1D","t":0.196,"r":134.6},{"model":"15 WH07","dim":"1D","t":0.2079,"r":131.2},{"model":"15 WH07","dim":"1D","t":0.2203,"r":127.9},{"model":"15 WH07","dim":"1D","t":0.2328,"r":124.5},{"model":"15 WH07","dim":"1D","t":0.2446,"r":121.5},{"model":"15 WH07","dim":"1D","t":0.2571,"r":118.2},{"model":"15 WH07","dim":"1D","t":0.2712,"r":115.5},{"model":"15 WH07","dim":"1D","t":0.2836,"r":112.8},{"model":"15 WH07","dim":"1D","t":0.2955,"r":110.1},{"model":"15 WH07","dim":"1D","t":0.3107,"r":107.5},{"model":"15 WH07","dim":"1D","t":0.3249,"r":105.1},{"model":"15 WH07","dim":"1D","t":0.3373,"r":103.1},{"model":"15 WH07","dim":"1D","t":0.352,"r":101.1},{"model":"15 WH07","dim":"1D","t":0.3661,"r":99.1},{"model":"15 WH07","dim":"1D","t":0.3802,"r":97.8},{"model":"15 WH07","dim":"1D","t":0.3944,"r":95.4},{"model":"15 WH07","dim":"1D","t":0.4107,"r":94.4},{"model":"15 WH07","dim":"1D","t":0.4254,"r":92.7},{"model":"15 WH07","dim":"1D","t":0.4407,"r":91.1},{"model":"15 WH07","dim":"1D","t":0.452,"r":88.1},{"model":"15 WH07","dim":"1D","t":0.4706,"r":88.1},{"model":"15 WH07","dim":"1D","t":0.4859,"r":87.7},{"model":"15 WH07","dim":"1D","t":0.4972,"r":86},{"model":"15 WH07","dim":"1D","t":0.5141,"r":86},{"model":"15 WH07","dim":"1D","t":0.5339,"r":84.7},
{"model":"20 WH07","dim":"1D","t":0.0002,"r":5},{"model":"20 WH07","dim":"1D","t":0.0008,"r":50},{"model":"20 WH07","dim":"1D","t":0.0017,"r":74},{"model":"20 WH07","dim":"1D","t":0.0028,"r":82},{"model":"20 WH07","dim":"1D","t":0.0056,"r":83.7},{"model":"20 WH07","dim":"1D","t":0.0102,"r":81.4},{"model":"20 WH07","dim":"1D","t":0.0158,"r":91.4},{"model":"20 WH07","dim":"1D","t":0.0209,"r":101},{"model":"20 WH07","dim":"1D","t":0.0282,"r":108},{"model":"20 WH07","dim":"1D","t":0.0328,"r":118.8},{"model":"20 WH07","dim":"1D","t":0.0384,"r":126.2},{"model":"20 WH07","dim":"1D","t":0.0452,"r":133.2},{"model":"20 WH07","dim":"1D","t":0.0537,"r":140},{"model":"20 WH07","dim":"1D","t":0.0638,"r":146.6},{"model":"20 WH07","dim":"1D","t":0.0723,"r":153},{"model":"20 WH07","dim":"1D","t":0.0836,"r":156.7},{"model":"20 WH07","dim":"1D","t":0.096,"r":157.4},{"model":"20 WH07","dim":"1D","t":0.113,"r":156.7},{"model":"20 WH07","dim":"1D","t":0.1299,"r":154},{"model":"20 WH07","dim":"1D","t":0.1429,"r":151.7},{"model":"20 WH07","dim":"1D","t":0.1571,"r":149.6},{"model":"20 WH07","dim":"1D","t":0.1695,"r":146.3},{"model":"20 WH07","dim":"1D","t":0.1825,"r":143.3},{"model":"20 WH07","dim":"1D","t":0.196,"r":139.6},{"model":"20 WH07","dim":"1D","t":0.2079,"r":136.3},{"model":"20 WH07","dim":"1D","t":0.2192,"r":132.9},{"model":"20 WH07","dim":"1D","t":0.2328,"r":128.9},{"model":"20 WH07","dim":"1D","t":0.2441,"r":125.5},{"model":"20 WH07","dim":"1D","t":0.2582,"r":122.9},{"model":"20 WH07","dim":"1D","t":0.2701,"r":119.5},{"model":"20 WH07","dim":"1D","t":0.2853,"r":118.8},{"model":"20 WH07","dim":"1D","t":0.2977,"r":122.9},{"model":"20 WH07","dim":"1D","t":0.309,"r":127.2},{"model":"20 WH07","dim":"1D","t":0.3192,"r":122.9},{"model":"20 WH07","dim":"1D","t":0.3294,"r":118.2},{"model":"20 WH07","dim":"1D","t":0.3418,"r":114.5},{"model":"20 WH07","dim":"1D","t":0.3542,"r":111.2},{"model":"20 WH07","dim":"1D","t":0.3672,"r":108.1},{"model":"20 WH07","dim":"1D","t":0.3814,"r":105.5},{"model":"20 WH07","dim":"1D","t":0.3944,"r":103.1},{"model":"20 WH07","dim":"1D","t":0.4085,"r":101.4},{"model":"20 WH07","dim":"1D","t":0.4237,"r":99.1},{"model":"20 WH07","dim":"1D","t":0.439,"r":98.1},{"model":"20 WH07","dim":"1D","t":0.4537,"r":96.1},{"model":"20 WH07","dim":"1D","t":0.4565,"r":95},
{"model":"25 WH07","dim":"1D","t":0.0002,"r":5},{"model":"25 WH07","dim":"1D","t":0.0008,"r":50},{"model":"25 WH07","dim":"1D","t":0.0017,"r":74},{"model":"25 WH07","dim":"1D","t":0.0028,"r":81},{"model":"25 WH07","dim":"1D","t":0.0056,"r":84},{"model":"25 WH07","dim":"1D","t":0.009,"r":82},{"model":"25 WH07","dim":"1D","t":0.0124,"r":85.4},{"model":"25 WH07","dim":"1D","t":0.0169,"r":93.7},{"model":"25 WH07","dim":"1D","t":0.0215,"r":103.8},{"model":"25 WH07","dim":"1D","t":0.0271,"r":112.2},{"model":"25 WH07","dim":"1D","t":0.0328,"r":119.9},{"model":"25 WH07","dim":"1D","t":0.0384,"r":128.2},{"model":"25 WH07","dim":"1D","t":0.0463,"r":135.6},{"model":"25 WH07","dim":"1D","t":0.0548,"r":141.6},{"model":"25 WH07","dim":"1D","t":0.065,"r":147.3},{"model":"25 WH07","dim":"1D","t":0.0734,"r":153},{"model":"25 WH07","dim":"1D","t":0.0847,"r":158.4},{"model":"25 WH07","dim":"1D","t":0.0949,"r":160.7},{"model":"25 WH07","dim":"1D","t":0.1113,"r":159},{"model":"25 WH07","dim":"1D","t":0.126,"r":157.4},{"model":"25 WH07","dim":"1D","t":0.1395,"r":154.7},{"model":"25 WH07","dim":"1D","t":0.1537,"r":152.3},{"model":"25 WH07","dim":"1D","t":0.165,"r":149},{"model":"25 WH07","dim":"1D","t":0.1791,"r":145.6},{"model":"25 WH07","dim":"1D","t":0.191,"r":142.3},{"model":"25 WH07","dim":"1D","t":0.2034,"r":139},{"model":"25 WH07","dim":"1D","t":0.2158,"r":135},{"model":"25 WH07","dim":"1D","t":0.2277,"r":131.6},{"model":"25 WH07","dim":"1D","t":0.2412,"r":128.2},{"model":"25 WH07","dim":"1D","t":0.2531,"r":125.5},{"model":"25 WH07","dim":"1D","t":0.2655,"r":121.5},{"model":"25 WH07","dim":"1D","t":0.2785,"r":119.5},{"model":"25 WH07","dim":"1D","t":0.291,"r":116.2},{"model":"25 WH07","dim":"1D","t":0.3051,"r":113.2},{"model":"25 WH07","dim":"1D","t":0.3203,"r":113.2},{"model":"25 WH07","dim":"1D","t":0.3322,"r":117.2},{"model":"25 WH07","dim":"1D","t":0.3435,"r":121.2},{"model":"25 WH07","dim":"1D","t":0.3571,"r":118.2},{"model":"25 WH07","dim":"1D","t":0.3684,"r":113.8},{"model":"25 WH07","dim":"1D","t":0.3802,"r":110.5},{"model":"25 WH07","dim":"1D","t":0.3927,"r":107.8},{"model":"25 WH07","dim":"1D","t":0.4068,"r":105.1},{"model":"25 WH07","dim":"1D","t":0.4209,"r":102.8},{"model":"25 WH07","dim":"1D","t":0.435,"r":100.8},{"model":"25 WH07","dim":"1D","t":0.4492,"r":99.1},{"model":"25 WH07","dim":"1D","t":0.452,"r":99}
  ]},
  "mark": {"type": "line", "strokeWidth": 4.5, "strokeJoin": "round", "interpolate": "monotone", "clip": true},
  "encoding": {
   "x": {"field": "t", "type": "quantitative", "scale": {"domain": [0, 0.642], "nice": false, "zero": false}, "axis": {"values": [0, 0.1, 0.2, 0.3, 0.4, 0.5, 0.6], "format": ".1f", "title": "Time after bounce [s]", "labelPadding": 22, "titlePadding": 14}},
   "y": {"field": "r", "type": "quantitative", "scale": {"domain": [0, 300], "nice": false}, "axis": {"values": [0, 50, 100, 150, 200, 250, 300], "format": "d", "title": "Average shock radius [km]", "labelPadding": 26, "titlePadding": 25, "titleY": 459}},
   "color": {"field": "model", "type": "nominal", "scale": {"domain": ["12 WH07", "15 WH07", "20 WH07", "25 WH07"], "range": ["#0000ff", "#000000", "#ff0000", "#008000"]}, "legend": null},
   "strokeDash": {"field": "dim", "type": "nominal", "scale": {"domain": ["2D", "1D"], "range": [[1, 0], [13, 13]]}, "legend": null}
  }
 },
 {
  "data": {"values": [{"key": "12 WH07"}, {"key": "15 WH07"}, {"key": "20 WH07"}, {"key": "25 WH07"}, {"key": "2D"}, {"key": "1D"}]},
  "mark": {"type": "line", "strokeWidth": 4},
  "encoding": {
   "x": {"field": "t", "type": "quantitative", "axis": {"orient": "top", "values": [0, 0.1, 0.2, 0.3, 0.4, 0.5, 0.6], "labels": false, "title": null}},
   "y": {"field": "r", "type": "quantitative", "axis": {"orient": "right", "values": [0, 50, 100, 150, 200, 250, 300], "labels": false, "title": null}},
   "color": {"field": "key", "type": "nominal", "scale": {"domain": ["12 WH07", "15 WH07", "20 WH07", "25 WH07", "2D", "1D"], "range": ["#0000ff", "#000000", "#ff0000", "#008000", "#000000", "#000000"]},
    "legend": {"title": null, "orient": "none", "legendX": 16, "legendY": 717, "columns": 2, "columnPadding": 63, "rowPadding": 3, "padding": 7, "symbolOffset": 19, "strokeColor": "black", "fillColor": "white", "symbolType": "stroke", "symbolSize": 2500, "symbolStrokeWidth": 4, "labelOffset": 34, "labelFontSize": 36, "labelFont": "Liberation Serif", "encode": {"legend": {"update": {"strokeWidth": {"value": 2}}}}}},
   "strokeDash": {"field": "key", "type": "nominal", "scale": {"domain": ["12 WH07", "15 WH07", "20 WH07", "25 WH07", "2D", "1D"], "range": [[1, 0], [1, 0], [1, 0], [1, 0], [1, 0], [13, 13]]}}
  }
 }
],
"resolve": {"scale": {"color": "independent", "strokeDash": "independent"}, "axis": {"x": "independent", "y": "independent"}}
}
